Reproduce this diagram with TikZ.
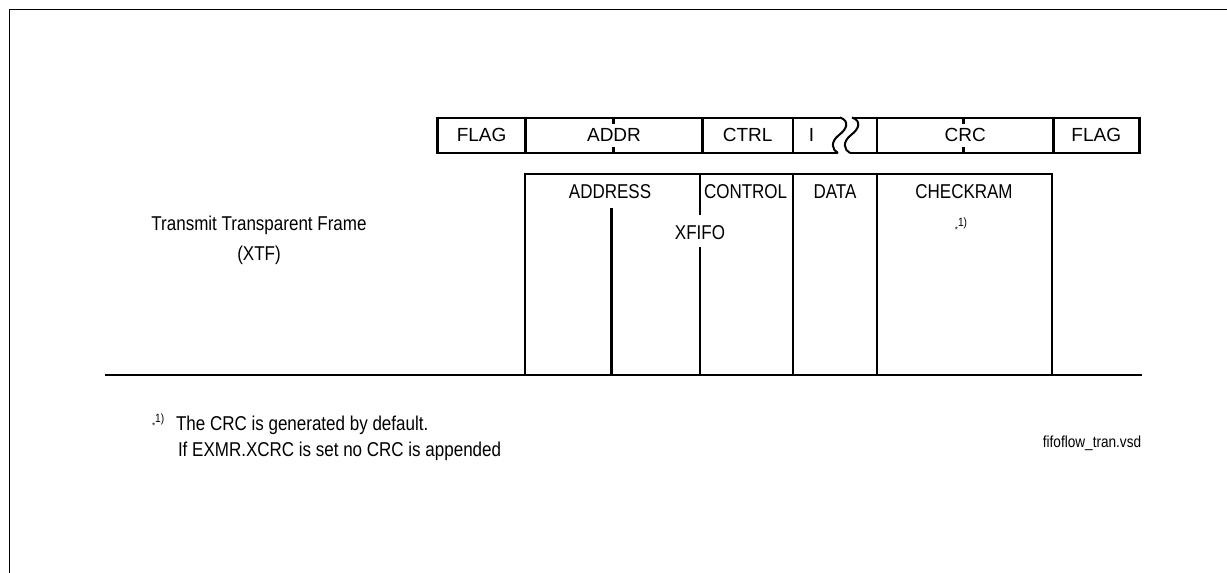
\documentclass[tikz,border=0pt]{standalone}
\usepackage{fontspec}
\setmainfont{Liberation Sans}
\newfontfamily\narrowfont[FakeStretch=0.85]{Liberation Sans}
\begin{document}
\begin{tikzpicture}[x=1pt,y=-1pt,line width=2pt,
  toplbl/.style={font=\fontsize{19}{22}\selectfont,inner sep=0pt},
  lbl/.style={font=\narrowfont\fontsize{20}{24}\selectfont,inner sep=0pt},
  note/.style={font=\narrowfont\fontsize{20}{24}\selectfont,inner sep=0pt,anchor=west},
  small/.style={font=\narrowfont\fontsize{16}{18}\selectfont,inner sep=0pt},
  divider/.style={line width=2.5pt},
  tick/.style={line width=3.2pt}]
\useasboundingbox (0,0) rectangle (1227,573);
% page border (top and left only visible)
\draw[line width=1.8pt] (9.5,573) -- (9.5,9.5) -- (1227,9.5);

% ---------- frame row ----------
\draw (437.5,117.5) -- (840,117.5);
\draw (437.5,153) -- (838,153);
\draw (852,117.5) -- (1139.3,117.5);
\draw (850,153) -- (1139.3,153);
\foreach \x in {437.5,525.7,702.3,793,877,1053.3,1139.3}
  \draw[divider] (\x,116.5) -- (\x,154);
% break marks
\draw (840,117.5) .. controls (850,121) and (847,129) .. (839,135) .. controls (830,142) and (832,150) .. (838,153);
\draw (852,117.5) .. controls (862,121) and (859,129) .. (851,135) .. controls (842,142) and (844,150) .. (850,153);
% ticks
\foreach \x in {613.3,963.3}{
  \draw[tick] (\x,117.5) -- (\x,123.5);
  \draw[tick] (\x,147) -- (\x,153);
}
\node[toplbl] (flag1) at (481.6,135.3) {FLAG};
\node[toplbl] (addr)  at (614,135.3) {ADDR};
\node[toplbl] (ctrl)  at (747.6,135.3) {CTRL};
\node[toplbl] (info)  at (811.5,135.3) {I};
\node[toplbl] (crc)   at (965.2,135.3) {CRC};
\node[toplbl] (flag2) at (1096.3,135.3) {FLAG};

% ---------- XFIFO ----------
\draw[divider] (525,375) -- (525,174) -- (1052,174) -- (1052,375);
\draw[divider] (611.7,208) -- (611.7,375);
\draw[divider] (700,174) -- (700,215);
\draw[divider] (700,247) -- (700,375);
\draw[divider] (793,174) -- (793,375);
\draw[divider] (877,174) -- (877,375);
\node[lbl] (address) at (610,192) {ADDRESS};
\node[lbl,anchor=west] (control) at (703,192) {CONTROL};
\node[lbl] (data) at (835,192) {DATA};
\node[lbl] (checkram) at (964,192) {CHECKRAM};
\node[lbl] (xfifo) at (700,233) {XFIFO};
\node[inner sep=0pt] (mark) at (961,225) {\raisebox{-3pt}{\fontsize{8}{8}\selectfont *}\raisebox{3pt}{\narrowfont\fontsize{12}{12}\selectfont 1)}};

% ---------- left label ----------
\node[lbl] (xtf1) at (259,225) {Transmit Transparent Frame};
\node[lbl] (xtf2) at (259,255) {(XTF)};

% ---------- baseline ----------
\draw[line width=2.6pt] (105,375) -- (1142,375);

% ---------- footnote ----------
\node[inner sep=0pt,anchor=west] (fmark) at (151,421) {\raisebox{-3pt}{\fontsize{8}{8}\selectfont *}\raisebox{3pt}{\narrowfont\fontsize{12}{12}\selectfont 1)}};
\node[note] (fn1) at (175,425) {The CRC is generated by default.};
\node[note] (fn2) at (177,451) {If EXMR.XCRC is set no CRC is appended};
\node[small] (file) at (1092,443) {fifoflow\_tran.vsd};
\end{tikzpicture}
\end{document}
